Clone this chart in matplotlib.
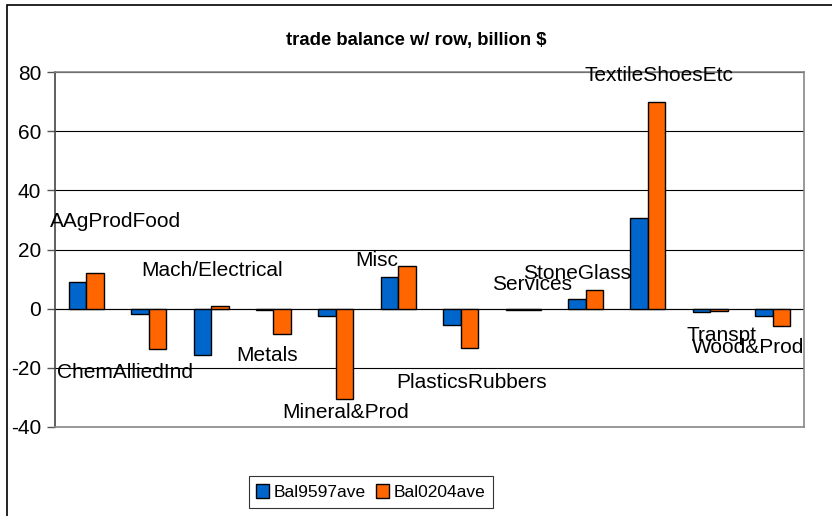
import matplotlib.pyplot as plt
import numpy as np

plt.rcParams['font.family'] = ['Liberation Sans', 'DejaVu Sans']
plt.rcParams['axes.unicode_minus'] = False

categories = ['AAgProdFood', 'ChemAlliedInd', 'Mach/Electrical', 'Metals', 'Mineral&Prod', 'Misc',
              'PlasticsRubbers', 'Services', 'StoneGlass', 'TextileShoesEtc', 'Transpt', 'Wood&Prod']
bal9597 = [8.9, -1.8, -15.5, -0.5, -2.4, 10.8, -5.6, -0.5, 3.3, 30.5, -1.2, -2.6]
bal0204 = [12.0, -13.6, 0.8, -8.7, -30.5, 14.5, -13.2, -0.5, 6.4, 70.0, -0.8, -5.7]

# where the category name labels sit (category offset, value)
label_dx = [0.47, -0.38, 0.02, -0.11, 0.15, -0.35, 0.17, 0.14, -0.13, 0.17, 0.18, -0.40]
label_y = [29.4, -21.6, 12.8, -15.9, -35.0, 16.2, -25.0, 8.1, 11.8, 78.7, -9.1, -13.2]

blue = '#0066cc'
orange = '#ff6600'

fig = plt.figure(figsize=(8.32, 5.16), dpi=100)
ax = fig.add_axes([55/832, 1 - 427/516, (804 - 55)/832, (427 - 72)/516])

x = np.arange(len(categories))
w = 0.28
ax.bar(x - w/2, bal9597, w, color=blue, edgecolor='black', linewidth=1, label='Bal9597ave', zorder=3)
ax.bar(x + w/2, bal0204, w, color=orange, edgecolor='black', linewidth=1, label='Bal0204ave', zorder=3)

for i, name in enumerate(categories):
    ax.text(x[i] + label_dx[i], label_y[i], name, ha='center', va='center', fontsize=15, zorder=4)

ax.set_xlim(-0.5, len(categories) - 0.5)
ax.set_ylim(-40, 80)
ax.set_yticks(range(-40, 81, 20))
ax.set_xticks([])
ax.tick_params(axis='y', labelsize=15, length=6, width=1, direction='out', color='#555555', pad=4)
ax.yaxis.grid(True, color='black', linewidth=0.8, zorder=0)
for s in ['top', 'right', 'bottom']:
    ax.spines[s].set_color('#888888')
    ax.spines[s].set_linewidth(1.2)
ax.spines['left'].set_color('#444444')
ax.spines['left'].set_linewidth(1.2)
ax.axhline(0, color='black', linewidth=0.8, zorder=2)

fig.text(0.5, 1 - 40/516, 'trade balance w/ row, billion $', ha='center', va='center',
         fontsize=13.3, fontweight='bold')

leg = ax.legend(loc='center', bbox_to_anchor=(371/832, 1 - 492/516), bbox_transform=fig.transFigure,
                ncol=2, fontsize=12.5, frameon=True, fancybox=False, edgecolor='black',
                handlelength=0.7, handleheight=0.9, handletextpad=0.3, columnspacing=0.6, borderpad=0.45)
leg.get_frame().set_linewidth(0.8)

fig.patches.append(plt.Rectangle((7/832, -0.1), 1.0, 1.1 - 5/516, transform=fig.transFigure,
                                 fill=False, edgecolor='black', linewidth=1.2))

fig.savefig('out.png', dpi=100)
